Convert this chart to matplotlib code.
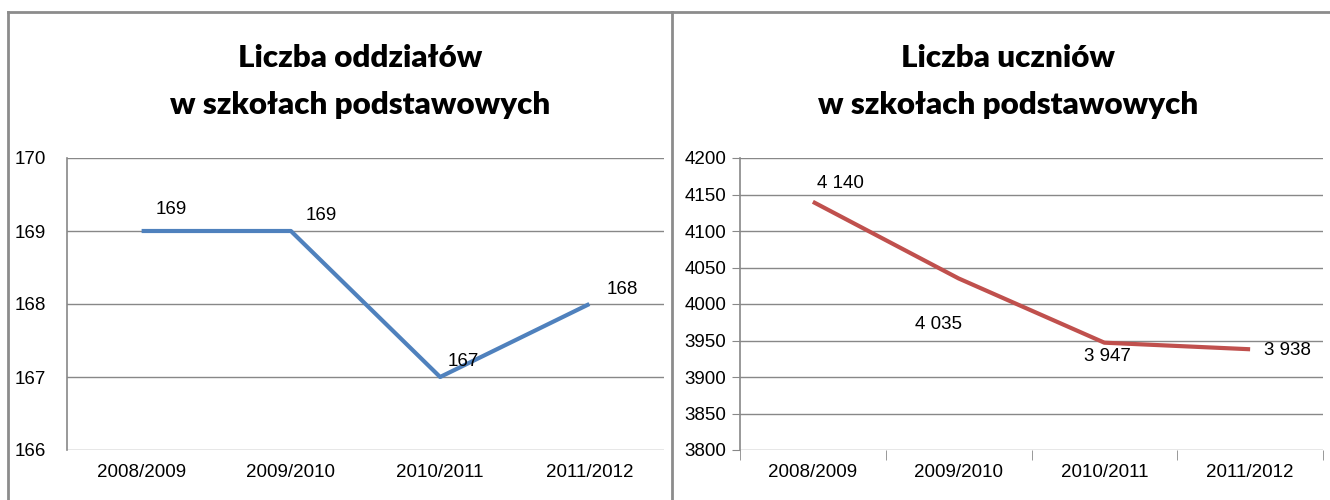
import matplotlib.pyplot as plt
from matplotlib.lines import Line2D

plt.rcParams['font.family'] = ['Liberation Sans', 'DejaVu Sans']

years = ['2008/2009', '2009/2010', '2010/2011', '2011/2012']
oddzialy = [169, 169, 167, 168]
uczniowie = [4140, 4035, 3947, 3938]

# label offsets in pixels (x, y), as placed in the original
off_left = [(30, 21), (30, 16), (23, 15), (33, 15)]
off_right = [(28, 18), (-20, -46), (3, -14), (37, -1)]

grid_col = '#888888'
W, H = 1330, 500
fs = 13.5

fig = plt.figure(figsize=(13.3, 5), dpi=100)


def fmt(v):
    return f'{v:,}'.replace(',', ' ')


def panel(rect, values, color, ylim, step, offsets, ticks_out):
    ax = fig.add_axes(rect)
    x = range(len(years))
    ax.plot(x, values, color=color, lw=3, solid_capstyle='butt', zorder=3)
    ax.set_xlim(-0.5, len(years) - 0.5)
    ax.set_ylim(*ylim)
    ax.set_yticks(range(ylim[0], ylim[1] + 1, step))
    ax.set_xticks(list(x))
    ax.set_xticklabels(years)
    ax.yaxis.grid(True, color=grid_col, lw=1)
    ax.set_axisbelow(True)
    for s in ['top', 'right', 'bottom']:
        ax.spines[s].set_visible(False)
    ax.spines['left'].set_color(grid_col)
    ax.spines['left'].set_linewidth(1.2)
    ax.tick_params(axis='both', labelsize=fs, colors='black')
    if ticks_out:
        ax.tick_params(axis='y', length=6, color=grid_col, pad=4)
        ax.set_xticks([i - 0.5 for i in range(len(years) + 1)], minor=True)
        ax.tick_params(axis='x', which='minor', length=7, color=grid_col, direction='out')
        ax.tick_params(axis='x', which='major', length=0, pad=10)
    else:
        ax.tick_params(axis='y', length=0, pad=15)
        ax.tick_params(axis='x', length=0, pad=10)
    for i, v in enumerate(values):
        ax.annotate(fmt(v), (i, v), xytext=offsets[i], textcoords='offset pixels',
                    ha='center', va='center', fontsize=fs)
    return ax


panel([67 / W, 1 - 450 / H, (664 - 67) / W, 292 / H], oddzialy, '#4F81BD',
      (166, 170), 1, off_left, False)
panel([740 / W, 1 - 450 / H, (1323 - 740) / W, 292 / H], uczniowie, '#C0504D',
      (3800, 4200), 50, off_right, True)

title_font = dict(ha='center', va='center', fontsize=22.5, fontweight='heavy',
                  family=['Lato', 'DejaVu Sans'])
fig.text(360 / W, 1 - 58 / H, 'Liczba oddziałów', **title_font)
fig.text(360 / W, 1 - 105 / H, 'w szkołach podstawowych', **title_font)
fig.text(1008 / W, 1 - 58 / H, 'Liczba uczniów', **title_font)
fig.text(1008 / W, 1 - 105 / H, 'w szkołach podstawowych', **title_font)

# panel frames
frame = dict(color='#8c8c8c', lw=2, transform=fig.transFigure)
fig.add_artist(Line2D([8 / W, 1], [1 - 12 / H, 1 - 12 / H], **frame))
fig.add_artist(Line2D([8 / W, 8 / W], [0, 1 - 12 / H], **frame))
fig.add_artist(Line2D([672 / W, 672 / W], [0, 1 - 12 / H], **frame))

fig.savefig('out.png', dpi=100)
